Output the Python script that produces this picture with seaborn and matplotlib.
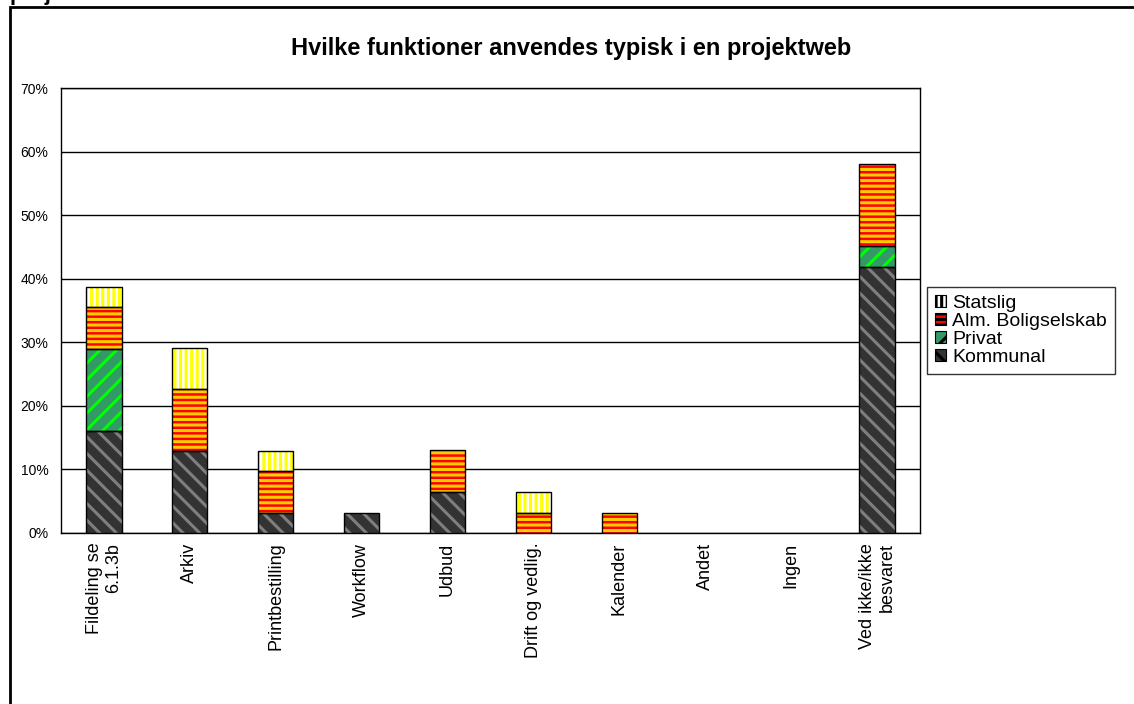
import matplotlib
matplotlib.use("Agg")
import matplotlib.pyplot as plt
import seaborn as sns
import pandas as pd
import numpy as np
from matplotlib.patches import Patch, Rectangle

# Survey data (percent of respondents)
categories = ["Fildeling se\n6.1.3b", "Arkiv", "Printbestilling", "Workflow", "Udbud",
              "Drift og vedlig.", "Kalender", "Andet", "Ingen", "Ved ikke/ikke\nbesvaret"]
kommunal = [16.1, 12.9, 3.2, 3.2, 6.5, 0.0, 0.0, 0.0, 0.0, 41.9]
privat = [12.9, 0.0, 0.0, 0.0, 0.0, 0.0, 0.0, 0.0, 0.0, 3.2]
alm_boligselskab = [6.5, 9.7, 6.5, 0.0, 6.5, 3.2, 3.2, 0.0, 0.0, 12.9]
statslig = [3.2, 6.5, 3.2, 0.0, 0.0, 3.2, 0.0, 0.0, 0.0, 0.0]

series_names = ["Kommunal", "Privat", "Alm. Boligselskab", "Statslig"]
series_values = [kommunal, privat, alm_boligselskab, statslig]

# fill colour, hatch colour, hatch pattern per series
styles = {
    "Kommunal": ("#333333", "#7f7f7f", "\\\\"),
    "Privat": ("#339966", "#00ff00", "//"),
    "Alm. Boligselskab": ("#ff0000", "#ffcc00", "---"),
    "Statslig": ("#ffffff", "#ffff00", "|||"),
}

sns.set_style("white")
plt.rcParams["font.family"] = ["Liberation Sans", "DejaVu Sans"]
plt.rcParams["hatch.linewidth"] = 2.2
for key in ("text.color", "axes.labelcolor", "xtick.color", "ytick.color"):
    plt.rcParams[key] = "black"

fig = plt.figure(figsize=(11.34, 7.04), dpi=100)
ax = fig.add_axes([61 / 1134, 171 / 704, 859 / 1134, 445 / 704])

BAR_W = 0.41
bottom = np.zeros(len(categories))
for name, vals in zip(series_names, series_values):
    face, hcol, hatch = styles[name]
    df = pd.DataFrame({"cat": categories, "val": vals})
    n0 = len(ax.patches)
    sns.barplot(data=df, x="cat", y="val", order=categories, ax=ax,
                width=BAR_W, bottom=bottom.copy(), color=face,
                hatch=hatch, edgecolor=hcol, linewidth=0, zorder=3,
                errorbar=None, saturation=1)
    for p in ax.patches[n0:]:
        p.set_facecolor(face)
        p.set_edgecolor(hcol)
        p.set_linewidth(0)
    n1 = len(ax.patches)
    sns.barplot(data=df, x="cat", y="val", order=categories, ax=ax,
                width=BAR_W, bottom=bottom.copy(), color=face,
                edgecolor="black", linewidth=1.0, zorder=4,
                errorbar=None, saturation=1)
    for p in ax.patches[n1:]:
        p.set_facecolor("none")
        p.set_edgecolor("black")
        p.set_hatch(None)
        if p.get_height() == 0:
            p.set_visible(False)
    bottom += np.array(vals)

ax.set_xlim(-0.5, len(categories) - 0.5)
ax.set_ylim(0, 70)
ax.set_yticks(np.arange(0, 71, 10))
ax.set_yticklabels([f"{v}%" for v in range(0, 71, 10)], fontsize=10)
ax.yaxis.grid(True, color="black", linewidth=1.0, zorder=0)
ax.set_axisbelow(True)

# category labels centred under bars, ticks on category boundaries
ax.set_xticks(np.arange(len(categories)))
ax.set_xticklabels(categories, rotation=90, fontsize=13, ha="center", va="top",
                   multialignment="right")
ax.set_xticks(np.arange(len(categories) + 1) - 0.5, minor=True)
ax.tick_params(axis="x", which="major", length=0, pad=7)
ax.tick_params(axis="x", which="minor", length=5, width=1, color="black", direction="out")
ax.tick_params(axis="y", which="major", length=5, width=1, color="black", direction="out", pad=4)
ax.set_xlabel("")
ax.set_ylabel("")
for s in ax.spines.values():
    s.set_visible(True)
    s.set_color("black")
    s.set_linewidth(1.0)

fig.text(571 / 1134, 1 - 48 / 704, "Hvilke funktioner anvendes typisk i en projektweb",
         ha="center", va="center", fontsize=17, fontweight="bold", color="black")

# legend (stack order reversed)
handles = []
for name in reversed(series_names):
    face, hcol, hatch = styles[name]
    handles.append(Patch(facecolor=face, edgecolor="black", hatch=hatch, linewidth=0.8))
leg = fig.legend(handles, list(reversed(series_names)), loc="upper left",
                 bbox_to_anchor=(927 / 1134, 1 - 287 / 704), frameon=True, fancybox=False,
                 fontsize=14, handlelength=0.6, handleheight=0.6, handletextpad=0.3,
                 labelspacing=0.05, borderpad=0.4, borderaxespad=0)
leg.get_frame().set_edgecolor("black")
leg.get_frame().set_linewidth(1.0)

# outer chart frame
fig.add_artist(Rectangle((10 / 1134, -0.1), 1.2, 1 - 7 / 704 + 0.1,
                         transform=fig.transFigure, fill=False,
                         edgecolor="black", linewidth=2))
fig.text(10 / 1134, 1.0, "projektweb", ha="left", va="baseline",
         fontsize=16, fontweight="bold")

fig.savefig("out.png", dpi=100)
